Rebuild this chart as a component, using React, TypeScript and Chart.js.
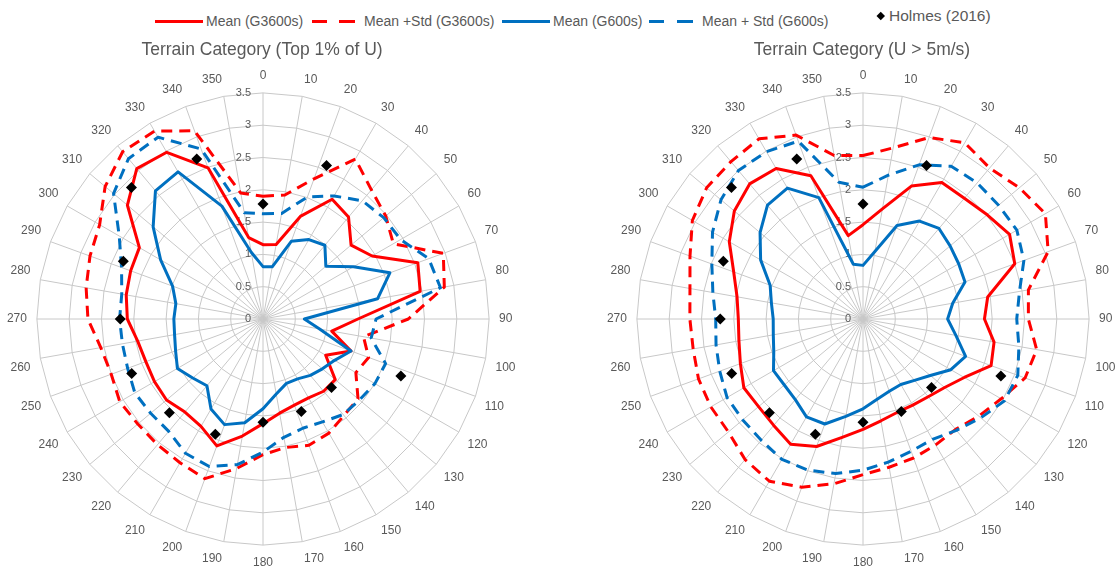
import React, { useEffect, useRef } from 'react';
import { Chart, registerables } from 'chart.js';

Chart.register(...registerables);

const FONT = '"Liberation Sans", Arial, sans-serif';
const TEXT = '#595959';
const GRID = '#c8c8c8';
const RED = '#ff0000';
const BLUE = '#0070c0';

// Wind directions (degrees) for the model series
const directions = [0, 10, 20, 30, 40, 50, 60, 70, 80, 90, 100, 110, 120, 130, 140, 150, 160, 170,
  180, 190, 200, 210, 220, 230, 240, 250, 260, 270, 280, 290, 300, 310, 320, 330, 340, 350];

// Radial tick labels
const tickLabels = ['0', '0.5', '1', '1.5', '2', '2.5', '3', '3.5'];

// Holmes (2016) directions (22.5 deg sectors) and values
const holmesDirections = [0, 22.5, 45, 67.5, 90, 112.5, 135, 157.5, 180, 202.5, 225, 247.5, 270, 292.5, 315, 337.5];
const holmes = [1.78, 2.57, null, null, null, 2.31, 1.50, 1.55, 1.60, 1.93, 2.05, 2.20, 2.21, 2.34, 2.88, 2.68];

// Left chart: Terrain Category (Top 1% of U)
const leftMeanG3600 = [1.15, 1.17, 1.69, 2.14, 2.06, 1.78, 1.95, 2.55, 2.47, 1.47, 1.08, 1.45, 1.12, 1.46, 1.46, 1.41, 1.42, 1.48,
  1.62, 1.84, 2.09, 1.92, 1.88, 1.95, 1.94, 1.93, 1.97, 2.10, 2.15, 2.18, 2.21, 2.74, 3.04, 2.98, 2.49, 1.28];
const leftStdG3600 = [1.90, 1.95, 2.31, 2.86, 2.61, 2.48, 2.33, 2.97, 2.85, 2.25, 1.58, 1.74, 1.66, 1.92, 1.95, 2.04, 2.08, 2.02,
  2.10, 2.35, 2.63, 2.57, 2.54, 2.53, 2.56, 2.50, 2.55, 2.71, 2.78, 2.85, 2.92, 3.19, 3.38, 3.36, 3.10, 1.98];
const leftMeanG600 = [0.81, 0.82, 1.28, 1.42, 1.49, 1.27, 1.62, 2.09, 1.80, 0.64, 0.89, 1.45, 1.28, 1.20, 1.14, 1.07, 1.06, 1.18,
  1.39, 1.63, 1.74, 1.61, 1.35, 1.42, 1.53, 1.44, 1.39, 1.38, 1.37, 1.49, 1.83, 2.22, 2.59, 2.63, 1.86, 1.05];
const leftStdG600 = [1.63, 1.66, 2.01, 2.20, 2.39, 2.44, 2.46, 2.73, 2.79, 1.75, 1.70, 2.02, 2.00, 1.95, 1.93, 1.84, 1.80, 1.86,
  2.06, 2.29, 2.43, 2.40, 2.27, 2.27, 2.29, 2.23, 2.21, 2.22, 2.22, 2.33, 2.57, 3.02, 3.24, 3.25, 2.80, 1.67];

// Right chart: Terrain Category (U > 5m/s)
const rightMeanG3600 = [1.46, 1.73, 2.19, 2.44, 2.44, 2.51, 2.62, 2.50, 1.96, 1.88, 2.06, 2.11, 1.81, 1.65, 1.57, 1.54, 1.54, 1.60,
  1.71, 1.86, 2.10, 2.24, 2.15, 2.11, 2.13, 2.02, 1.95, 1.93, 1.98, 2.13, 2.39, 2.60, 2.73, 2.69, 2.36, 1.31];
const rightStdG3600 = [2.53, 2.69, 2.99, 3.15, 3.05, 3.16, 3.26, 3.05, 2.60, 2.56, 2.73, 2.67, 2.47, 2.34, 2.23, 2.25, 2.29, 2.33,
  2.41, 2.59, 2.77, 2.90, 2.84, 2.72, 2.72, 2.71, 2.67, 2.68, 2.72, 2.85, 3.05, 3.16, 3.18, 3.22, 3.03, 2.57];
const rightMeanG600 = [0.83, 1.06, 1.54, 1.75, 1.83, 1.76, 1.71, 1.68, 1.41, 1.31, 1.46, 1.69, 1.57, 1.36, 1.24, 1.17, 1.19, 1.26,
  1.39, 1.53, 1.73, 1.75, 1.63, 1.59, 1.60, 1.47, 1.41, 1.39, 1.44, 1.53, 1.83, 2.08, 2.30, 2.34, 2.00, 0.86];
const rightStdG600 = [2.04, 2.26, 2.54, 2.73, 2.75, 2.74, 2.75, 2.65, 2.46, 2.38, 2.45, 2.55, 2.53, 2.38, 2.25, 2.15, 2.18, 2.25,
  2.34, 2.43, 2.49, 2.51, 2.45, 2.43, 2.43, 2.36, 2.31, 2.28, 2.36, 2.49, 2.69, 2.87, 3.00, 2.99, 2.93, 2.15];

// Angular resolution of the category axis (so 10 deg and 22.5 deg data share one axis)
const STEP = 2.5;
const SLOTS = 360 / STEP;

function placeOnSlots(angles: number[], values: (number | null)[]) {
  const arr: (number | null)[] = new Array(SLOTS).fill(null);
  angles.forEach((a, i) => {
    arr[Math.round(a / STEP)] = values[i];
  });
  return arr;
}

const slotLabels = Array.from({ length: SLOTS }, (_, k) => {
  const a = k * STEP;
  return directions.indexOf(a) >= 0 ? String(a) : '';
});

const gridPlugin = {
  id: 'polarGrid',
  beforeDatasetsDraw(chart: any) {
    const scale = chart.scales.r;
    const ctx = chart.ctx;
    ctx.save();
    ctx.strokeStyle = GRID;
    ctx.lineWidth = 1;
    tickLabels.forEach((t) => {
      const v = parseFloat(t);
      if (v === 0) return;
      ctx.beginPath();
      directions.forEach((a, i) => {
        const p = scale.getPointPositionForValue(Math.round(a / STEP), v);
        if (i === 0) ctx.moveTo(p.x, p.y);
        else ctx.lineTo(p.x, p.y);
      });
      ctx.closePath();
      ctx.stroke();
    });
    ctx.fillStyle = TEXT;
    ctx.font = '11px ' + FONT;
    ctx.textAlign = 'right';
    ctx.textBaseline = 'middle';
    tickLabels.forEach((t) => {
      const d = scale.getDistanceFromCenterForValue(parseFloat(t));
      ctx.fillText(t, scale.xCenter - 12, scale.yCenter - d);
    });
    ctx.restore();
  },
};

type Series = {
  meanG3600: number[];
  stdG3600: number[];
  meanG600: number[];
  stdG600: number[];
};

function lineDataset(label: string, values: number[], color: string, dashed: boolean, order: number) {
  return {
    label,
    data: placeOnSlots(directions, values),
    borderColor: color,
    backgroundColor: color,
    borderWidth: 3,
    borderDash: dashed ? [11, 7] : [],
    borderJoinStyle: 'round',
    pointRadius: 0,
    pointHoverRadius: 0,
    fill: false,
    spanGaps: true,
    tension: 0,
    order,
  };
}

function makeConfig(title: string, s: Series): any {
  return {
    type: 'radar',
    data: {
      labels: slotLabels,
      datasets: [
        lineDataset('Mean (G3600s)', s.meanG3600, RED, false, 4),
        lineDataset('Mean +Std (G3600s)', s.stdG3600, RED, true, 3),
        lineDataset('Mean (G600s)', s.meanG600, BLUE, false, 2),
        lineDataset('Mean + Std (G600s)', s.stdG600, BLUE, true, 1),
        {
          label: 'Holmes (2016)',
          data: placeOnSlots(holmesDirections, holmes),
          showLine: false,
          fill: false,
          pointStyle: 'rectRot',
          pointRadius: 5.5,
          pointHoverRadius: 5.5,
          pointBackgroundColor: '#000000',
          pointBorderColor: '#000000',
          pointBorderWidth: 0,
          order: 0,
        },
      ],
    },
    options: {
      responsive: false,
      animation: false,
      devicePixelRatio: 1,
      events: [],
      layout: { padding: 0 },
      plugins: {
        legend: { display: false },
        tooltip: { enabled: false },
        title: {
          display: true,
          text: title,
          color: TEXT,
          font: { family: FONT, size: 17.5, weight: 'normal' },
          padding: { top: 11.5, bottom: 8 },
        },
      },
      scales: {
        r: {
          min: 0,
          max: 3.5,
          startAngle: 0,
          ticks: { display: false, stepSize: 0.5 },
          grid: { display: false },
          angleLines: {
            display: true,
            color: GRID,
            lineWidth: (c: any) => (c.index % 4 === 0 ? 1 : 0),
          },
          pointLabels: {
            display: true,
            padding: 10,
            color: TEXT,
            font: { family: FONT, size: 12 },
          },
        },
      },
    },
    plugins: [gridPlugin],
  };
}

function RadarPanel({ title, series, left }: { title: string; series: Series; left: number }) {
  const ref = useRef<HTMLCanvasElement | null>(null);
  useEffect(() => {
    if (!ref.current) return;
    const chart = new Chart(ref.current, makeConfig(title, series));
    return () => chart.destroy();
  }, []);
  return (
    <canvas
      ref={ref}
      width={524}
      height={542}
      style={{ position: 'absolute', left, top: 28, width: 524, height: 542 }}
    />
  );
}

const legendText: React.CSSProperties = {
  position: 'absolute',
  fontFamily: FONT,
  fontSize: 14,
  lineHeight: '16px',
  color: TEXT,
  whiteSpace: 'nowrap',
  top: 13,
};

function bar(left: number, width: number, color: string): React.CSSProperties {
  return { position: 'absolute', left, top: 19.5, width, height: 3, background: color };
}

function Legend() {
  return (
    <div style={{ position: 'absolute', left: 0, top: 0, width: 1116, height: 36 }}>
      <div style={bar(155, 48, RED)} />
      <span style={{ ...legendText, left: 206 }}>Mean (G3600s)</span>
      <div style={bar(312, 15, RED)} />
      <div style={bar(339, 16, RED)} />
      <span style={{ ...legendText, left: 364 }}>Mean +Std (G3600s)</span>
      <div style={bar(502, 48, BLUE)} />
      <span style={{ ...legendText, left: 553 }}>Mean (G600s)</span>
      <div style={bar(649, 15, BLUE)} />
      <div style={bar(677, 16, BLUE)} />
      <span style={{ ...legendText, left: 702 }}>Mean + Std (G600s)</span>
      <div
        style={{
          position: 'absolute',
          left: 878,
          top: 13,
          width: 5.5,
          height: 5.5,
          background: '#000',
          transform: 'rotate(45deg)',
        }}
      />
      <span style={{ ...legendText, left: 889, top: 7, fontSize: 15.5, lineHeight: '18px' }}>Holmes (2016)</span>
    </div>
  );
}

export default function App() {
  useEffect(() => {
    document.body.style.margin = '0';
  }, []);
  return (
    <div
      style={{
        position: 'absolute',
        left: 0,
        top: 0,
        width: 1116,
        height: 568,
        overflow: 'hidden',
        background: '#ffffff',
      }}
    >
      <Legend />
      <RadarPanel
        title="Terrain Category (Top 1% of U)"
        left={0}
        series={{ meanG3600: leftMeanG3600, stdG3600: leftStdG3600, meanG600: leftMeanG600, stdG600: leftStdG600 }}
      />
      <RadarPanel
        title="Terrain Category (U > 5m/s)"
        left={600}
        series={{ meanG3600: rightMeanG3600, stdG3600: rightStdG3600, meanG600: rightMeanG600, stdG600: rightStdG600 }}
      />
    </div>
  );
}
